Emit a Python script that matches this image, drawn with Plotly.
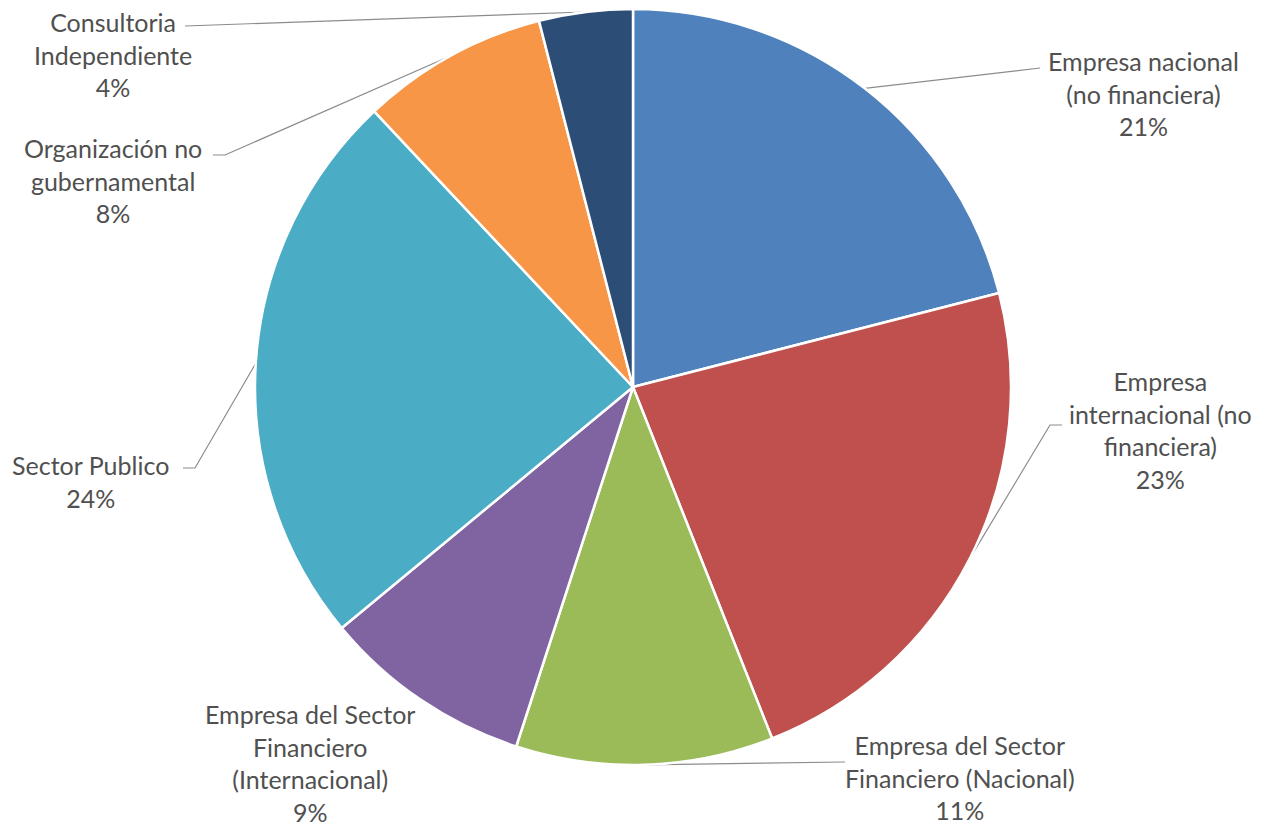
import math
import plotly.graph_objects as go

# ---- data ----
categories = [
    "Empresa nacional (no financiera)",
    "Empresa internacional (no financiera)",
    "Empresa del Sector Financiero (Nacional)",
    "Empresa del Sector Financiero (Internacional)",
    "Sector Publico",
    "Organización no gubernamental",
    "Consultoria Independiente",
]
label_lines = [
    "Empresa nacional<br>(no financiera)",
    "Empresa<br>internacional (no<br>financiera)",
    "Empresa del Sector<br>Financiero (Nacional)",
    "Empresa del Sector<br>Financiero<br>(Internacional)",
    "Sector Publico",
    "Organización no<br>gubernamental",
    "Consultoria<br>Independiente",
]
values = [21, 23, 11, 9, 24, 8, 4]

# ---- styles / layout (page pixel coordinates) ----
colors = ["#4F81BD", "#C0504D", "#9BBB59", "#8064A2", "#4BACC6", "#F79646", "#2C4D75"]
OFF = 8  # default page body margin
W, H = 1271 - 2 * OFF, 836 - 2 * OFF
CX, CY, R = 633 - OFF, 387 - OFF, 378
label_pos = [(1143, 93), (1160, 430), (960, 777), (310, 763), (90, 481), (113, 180), (113, 54)]
leader_pts = [
    [(1040, 68)],
    [(1050, 425), (1062, 425)],
    [(845, 762)],
    [],
    [(195, 468), (183, 468)],
    [(225, 155), (213, 155)],
    [(185, 26)],
]
text_color = "#505050"
font_family = "Lato"

fig = go.Figure()
fig.add_trace(go.Pie(
    labels=categories,
    values=values,
    sort=False,
    direction="clockwise",
    rotation=0,
    marker=dict(colors=colors, line=dict(color="white", width=2.5)),
    textinfo="none",
    showlegend=False,
    domain=dict(x=[(CX - R) / W, (CX + R) / W], y=[1 - (CY + R) / H, 1 - (CY - R) / H]),
))

total = sum(values)
cum = 0
for i, v in enumerate(values):
    mid = math.radians(90 - 360 * (cum + v / 2) / total)
    cum += v
    ex, ey = CX + R * math.cos(mid), CY - R * math.sin(mid)
    pts = leader_pts[i]
    if pts:
        xs = [ex] + [p[0] - OFF for p in pts]
        ys = [ey] + [p[1] - OFF for p in pts]
        fig.add_trace(go.Scatter(x=xs, y=ys, mode="lines",
                                 line=dict(color="#8C8C8C", width=1.2),
                                 hoverinfo="skip", showlegend=False))
    pct = round(100 * v / total)
    fig.add_annotation(x=label_pos[i][0] - OFF, y=label_pos[i][1] - OFF, xref="x", yref="y",
                       text=f"{label_lines[i]}<br>{pct}%", showarrow=False,
                       align="center", xanchor="center", yanchor="middle",
                       font=dict(family=font_family, size=25, color=text_color))

fig.update_layout(
    width=W, height=H,
    margin=dict(l=0, r=0, t=0, b=0),
    paper_bgcolor="white", plot_bgcolor="rgba(0,0,0,0)",
    xaxis=dict(range=[0, W], visible=False, fixedrange=True),
    yaxis=dict(range=[H, 0], visible=False, fixedrange=True),
)
fig.write_html("out.html")
